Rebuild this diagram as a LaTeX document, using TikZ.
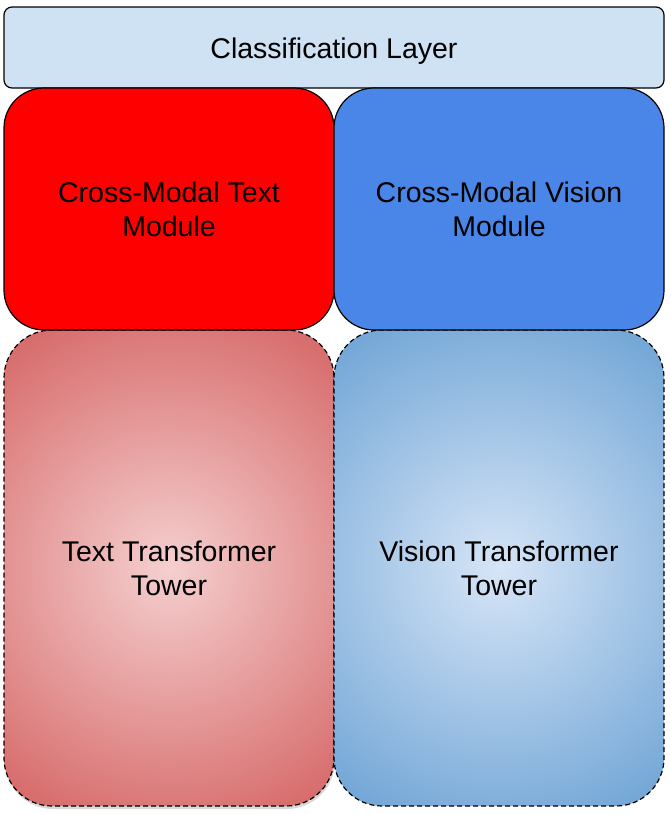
\documentclass[tikz,border=0pt]{standalone}
\usepackage{fontspec}
\setmainfont{Liberation Sans}
\usepackage{xcolor}
\usepackage{tikz}
\usetikzlibrary{positioning,shadows}
\definecolor{cPale}{HTML}{CFE2F3}
\definecolor{cRed}{HTML}{FF0000}
\definecolor{cBlue}{HTML}{4A86E8}
\definecolor{cRose}{HTML}{F5CFCF}
\definecolor{cRoseDk}{HTML}{D56464}
\definecolor{cSky}{HTML}{D6E5F7}
\definecolor{cSkyDk}{HTML}{6CA2D4}
\tikzset{
  mbox/.style={draw=black,fill=#1,rounded corners=40pt,line width=1.2pt,align=center,
    minimum width=330pt,minimum height=242pt,inner sep=0pt,
    font=\fontsize{28.5}{34}\selectfont},
  tbox/.style n args={2}{mbox,fill=none,rounded corners=48pt,dash pattern=on 5pt off 3pt,
    minimum height=476pt,
    path picture={\shade[inner color=#1,outer color=#2] (path picture bounding box.center) circle (292pt);}},
  topbar/.style={draw=black,fill=cPale,rounded corners=8pt,line width=1.2pt,
    minimum width=660pt,minimum height=81pt,text height=27pt,text depth=6pt,
    font=\fontsize{28.5}{34}\selectfont},
}

\begin{document}
\begin{tikzpicture}[x=1pt,y=-1pt]
    \useasboundingbox (0,0) rectangle (671,815);
    \node[topbar] (cls) at (334,47.5) {Classification Layer};
    \node[tbox={cRose}{cRoseDk},drop shadow={opacity=0.3,shadow xshift=1pt,shadow yshift=-3pt}] (ttow) at (169,568) {Text Transformer\\Tower};
    \node[tbox={cSky}{cSkyDk}] (vtow) at (499,568) {Vision Transformer\\Tower};
    \node[mbox=cRed] (ctxt) at (169,209) {Cross-Modal Text\\Module};
    \node[mbox=cBlue] (cvis) at (499,209) {Cross-Modal Vision\\Module};
  \end{tikzpicture}
\end{document}
